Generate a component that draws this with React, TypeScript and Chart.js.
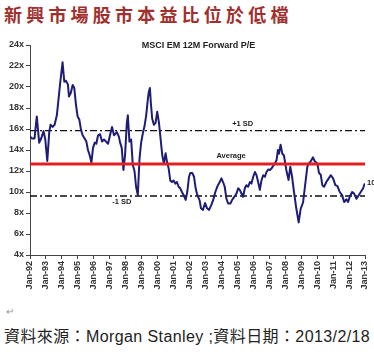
import React, { useEffect, useRef } from "react";
import { Chart, registerables } from "chart.js";

Chart.register(...registerables);

const title = "新興市場股市本益比位於低檔";
const subtitle = "MSCI EM 12M Forward P/E";
const source = "資料來源：Morgan Stanley ;資料日期：2013/2/18";

const yearLabels = [
  "Jan-92", "Jan-93", "Jan-94", "Jan-95", "Jan-96", "Jan-97", "Jan-98", "Jan-99",
  "Jan-00", "Jan-01", "Jan-02", "Jan-03", "Jan-04", "Jan-05", "Jan-06", "Jan-07",
  "Jan-08", "Jan-09", "Jan-10", "Jan-11", "Jan-12", "Jan-13",
];

// months since Jan-92
const months = [
  0, 1.4, 3.4, 5.1, 6.9, 8.4, 10.2, 11.5, 13.0, 14.5, 15.5, 17.0, 18.5, 20.2, 21.5, 22.8,
  24.5, 25.8, 27.0, 28.5, 29.3, 30.6, 32.1, 33.3, 34.6, 35.8, 37.1, 38.4, 39.6, 41.1, 42.4,
  43.6, 44.9, 46.2, 47.4, 48.7, 49.9, 51.2, 52.7, 54.2, 55.7, 57.2, 58.7, 60.2, 61.7, 63.2,
  65.3, 66.8, 67.8, 69.0, 70.3, 71.5, 72.8, 73.6, 74.8, 76.1, 77.3, 78.6, 79.8, 81.1, 82.4,
  83.6, 84.9, 86.2, 87.4, 88.7, 89.4, 90.2, 90.9, 91.9, 93.2, 94.5, 95.7, 97.0, 98.2, 99.5,
  100.7, 102.0, 103.0, 104.3, 105.5, 106.8, 108.0, 109.3, 110.5, 111.8, 113.0, 114.3, 115.6,
  117.1, 118.3, 119.6, 120.6, 122.1, 123.4, 124.6, 125.9, 127.6, 128.6, 130.1, 131.7, 133.2,
  134.7, 136.2, 137.7, 139.4, 141.2, 142.7, 144.0, 145.2, 146.5, 147.7, 149.0, 150.7, 152.3,
  153.8, 155.3, 156.6, 157.8, 159.1, 160.3, 161.6, 162.8, 164.1, 165.4, 166.6, 167.9, 169.2,
  170.4, 171.6, 172.9, 174.1, 175.4, 176.7, 177.9, 179.2, 180.5, 181.7, 183.0, 184.2, 185.5,
  186.5, 187.3, 188.5, 189.8, 191.0, 192.8, 194.5, 195.8, 197.1, 198.6, 200.3, 202.1, 203.6,
  205.4, 207.1, 208.6, 209.6, 211.1, 212.9, 214.1, 216.2, 217.4, 218.7, 219.9, 221.2, 222.9,
  224.7, 226.2, 228.0, 229.7, 231.3, 233.0, 234.8, 236.3, 238.0, 239.3, 240.5, 242.3, 243.8,
  245.6, 247.3, 248.8, 250.6, 251.3, 252,
];

const pe = [
  15.3, 15.1, 15.1, 17.2, 14.7, 15.1, 15.8, 15.0, 12.95, 15.75, 16.4, 16.2, 16.4, 17.3, 18.9, 20.5,
  22.35, 20.5, 20.6, 20.25, 19.1, 19.4, 20.2, 19.9, 18.3, 17.2, 16.9, 15.9, 15.4, 15.1, 14.8,
  14.0, 13.5, 12.8, 14.2, 14.7, 14.6, 15.4, 15.5, 14.8, 15.0, 14.8, 14.6, 15.4, 16.2, 15.4,
  15.7, 15.3, 14.7, 14.2, 12.1, 13.5, 16.5, 17.3, 14.8, 15.0, 12.6, 12.0, 10.5, 9.7, 13.2,
  14.7, 15.6, 16.3, 17.3, 18.9, 19.55, 19.9, 18.5, 17.0, 16.4, 16.6, 17.65, 16.6, 15.1, 13.5,
  12.7, 13.7, 12.9, 12.25, 11.1, 10.95, 11.1, 10.8, 10.95, 10.5, 10.35, 10.0, 9.7,
  9.25, 10.0, 11.45, 11.8, 11.8, 11.45, 10.35, 9.7, 9.2, 8.45, 8.3, 8.95, 8.45,
  8.3, 8.7, 9.2, 10.0, 10.6, 10.95, 11.3, 10.95, 10.5, 9.4, 8.9, 8.9, 9.3,
  9.55, 9.85, 10.35, 10.2, 9.85, 9.55, 10.35, 10.65, 10.5, 10.95, 10.8, 11.45, 11.9,
  11.6, 10.95, 10.2, 11.1, 11.6, 11.45, 11.9, 12.15, 12.1, 12.25, 12.5, 12.7, 13.05,
  14.0, 13.65, 14.5, 13.65, 13.5, 12.1, 11.15, 12.4, 11.5, 10.0, 8.45, 7.1, 8.4,
  9.0, 10.8, 12.4, 12.7, 12.9, 13.3, 12.95, 12.7, 11.8, 11.65, 10.65, 10.5, 10.95,
  11.3, 11.6, 11.3, 10.65, 10.55, 10.0, 9.7, 9.05, 9.3, 9.05, 9.55, 10.0, 9.85,
  9.35, 9.7, 10.0, 10.35, 10.65, 10.8,
];

const average = 12.67;
const plusSD = 15.84;
const minusSD = 9.62;
const lastLabel = "10";

const FONT = "'Liberation Sans', Arial, sans-serif";

const labelsPlugin = {
  id: "labelsPlugin",
  afterDatasetsDraw(chart: any) {
    const { ctx, chartArea, scales } = chart;
    const xs = scales.x;
    const ys = scales.y;
    ctx.save();
    ctx.fillStyle = "#222";
    ctx.textAlign = "center";
    ctx.textBaseline = "middle";
    ctx.font = `bold 9px ${FONT}`;
    ctx.fillText(subtitle, (chartArea.left + chartArea.right) / 2 + 1, chartArea.top + 1);
    ctx.font = `bold 7.5px ${FONT}`;
    ctx.fillText("+1 SD", xs.getPixelForValue(160), ys.getPixelForValue(plusSD) - 7);
    ctx.fillText("Average", xs.getPixelForValue(151.3), ys.getPixelForValue(average) - 8);
    ctx.fillText("-1 SD", xs.getPixelForValue(69), ys.getPixelForValue(minusSD) + 6);
    ctx.textAlign = "left";
    const li = pe.length - 1;
    ctx.fillText(lastLabel, xs.getPixelForValue(months[li]) + 2, ys.getPixelForValue(pe[li]) - 1);
    ctx.restore();
  },
};

function ChartView() {
  const ref = useRef<HTMLCanvasElement | null>(null);
  useEffect(() => {
    if (!ref.current) return;
    const line = (v: number) => [
      { x: 0, y: v },
      { x: 252, y: v },
    ];
    const chart = new Chart(ref.current, {
      type: "line",
      data: {
        datasets: [
          {
            label: "Average",
            data: line(average),
            borderColor: "#e41e20",
            borderWidth: 3,
            pointRadius: 0,
          },
          {
            label: "MSCI EM 12M Forward P/E",
            data: months.map((m, i) => ({ x: m, y: pe[i] })),
            borderColor: "#1d1d78",
            borderWidth: 2,
            pointRadius: 0,
            tension: 0,
            borderJoinStyle: "round",
          },
          {
            label: "+1 SD",
            data: line(plusSD),
            borderColor: "#111",
            borderWidth: 1.3,
            borderDash: [7, 3, 2, 3],
            pointRadius: 0,
          },
          {
            label: "-1 SD",
            data: line(minusSD),
            borderColor: "#111",
            borderWidth: 1.3,
            borderDash: [7, 3, 2, 3],
            pointRadius: 0,
          },
        ],
      },
      options: {
        responsive: false,
        animation: false,
        layout: { padding: { left: 0, right: 9, top: 9, bottom: 0 } },
        plugins: { legend: { display: false }, tooltip: { enabled: false } },
        scales: {
          x: {
            type: "linear",
            min: 0,
            max: 252,
            afterFit: (s: any) => {
              s.height = 46;
              s.paddingLeft = 0;
              s.paddingRight = 0;
            },
            ticks: {
              stepSize: 12,
              autoSkip: false,
              minRotation: 90,
              maxRotation: 90,
              padding: 2,
              color: "#333",
              font: { family: FONT, size: 9, weight: "bold" },
              callback: (v: any) => yearLabels[Math.round(Number(v) / 12)] ?? "",
            },
            grid: { display: true, drawOnChartArea: false, drawTicks: true, tickLength: 4, color: "#444" },
            border: { display: true, color: "#444", width: 1 },
          },
          y: {
            min: 4,
            max: 24,
            afterFit: (s: any) => {
              s.width = 30;
              s.paddingTop = 0;
              s.paddingBottom = 0;
            },
            ticks: {
              stepSize: 2,
              padding: 2,
              color: "#333",
              font: { family: FONT, size: 9, weight: "bold" },
              callback: (v: any) => `${v}x`,
            },
            grid: { display: true, drawOnChartArea: false, drawTicks: true, tickLength: 4, color: "#444" },
            border: { display: true, color: "#444", width: 1 },
          },
        },
      },
      plugins: [labelsPlugin],
    } as any);
    return () => chart.destroy();
  }, []);
  return <canvas ref={ref} width={374} height={265} style={{ position: "absolute", left: 0, top: 36 }} />;
}

export default function App() {
  return (
    <div
      style={{
        position: "absolute",
        left: 0,
        top: 0,
        width: 374,
        height: 354,
        background: "#fff",
        overflow: "hidden",
      }}
    >
      <div
        style={{
          position: "absolute",
          left: 4,
          top: 3,
          fontFamily: "'Noto Sans CJK TC', sans-serif",
          fontWeight: 700,
          fontSize: 18,
          letterSpacing: 4.2,
          lineHeight: "22px",
          color: "#a0302e",
          whiteSpace: "nowrap",
        }}
      >
        {title}
      </div>
      <ChartView />
      <div
        style={{
          position: "absolute",
          left: 6,
          top: 306,
          fontSize: 10,
          color: "#999",
          fontFamily: FONT,
        }}
      >
        ↵
      </div>
      <div
        style={{
          position: "absolute",
          left: 4,
          top: 327,
          fontSize: 16,
          lineHeight: "20px",
          letterSpacing: 0.4,
          color: "#222",
          fontFamily: "'Liberation Sans', 'Noto Sans CJK TC', sans-serif",
          whiteSpace: "nowrap",
        }}
      >
        {source}
      </div>
    </div>
  );
}
